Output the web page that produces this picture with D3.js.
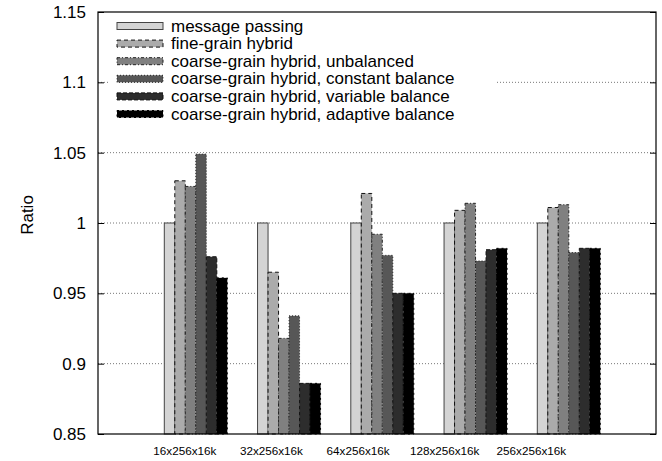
<!DOCTYPE html>
<html><head><meta charset="utf-8">
<script src="https://cdn.jsdelivr.net/npm/d3@7/dist/d3.min.js"></script>
<style>body{margin:0;background:#fff}svg{display:block}text{font-family:"Liberation Sans",Arial,sans-serif}</style>
</head><body><svg id="c" width="662" height="461"></svg>
<script>
const categories = ["16x256x16k","32x256x16k","64x256x16k","128x256x16k","256x256x16k"];
const seriesNames = ["message passing","fine-grain hybrid","coarse-grain hybrid, unbalanced","coarse-grain hybrid, constant balance","coarse-grain hybrid, variable balance","coarse-grain hybrid, adaptive balance"];
const messagePassing   = [1.000, 1.000, 1.000, 1.000, 1.000];
const fineGrain        = [1.030, 0.965, 1.021, 1.009, 1.011];
const cgUnbalanced     = [1.026, 0.918, 0.992, 1.014, 1.013];
const cgConstant       = [1.049, 0.934, 0.977, 0.973, 0.979];
const cgVariable       = [0.976, 0.886, 0.950, 0.981, 0.982];
const cgAdaptive       = [0.961, 0.886, 0.950, 0.982, 0.982];
const yTicks = [0.85, 0.9, 0.95, 1, 1.05, 1.1, 1.15];
const yTickLabels = ["0.85","0.9","0.95","1","1.05","1.1","1.15"];

const seriesValues = [messagePassing, fineGrain, cgUnbalanced, cgConstant, cgVariable, cgAdaptive];
const fills = ["#d4d4d4","#ababab","#808080","#575757","#2d2d2d","#000000"];
const strokes = ["#444","#111","#222","#222","#111","#000"];
const dashes = [null,"4,3","3,2,1,2","1,2","4,2","2,3"];

const svg = d3.select("#c");
const L = 98, R = 656, T = 12, B = 434;
const y = d3.scaleLinear().domain([0.85, 1.15]).range([B, T]);
const x0 = d3.scaleBand().domain(categories).range([164.3, 600.3]).paddingInner(0.3244).paddingOuter(0);
const x1 = d3.scaleBand().domain(seriesNames).range([0, x0.bandwidth()]).padding(0);
const xl = d3.scalePoint().domain(categories).range([184.3, 530.8]);

// grid
svg.append("g").selectAll("line").data(yTicks.filter(t => t > 0.86 && t < 1.14)).join("line")
  .attr("x1", L).attr("x2", R).attr("y1", d => y(d)).attr("y2", d => y(d))
  .attr("stroke", "#777").attr("stroke-width", 1).attr("stroke-dasharray", "1,2");

// bars
const g = svg.append("g");
categories.forEach((c, ci) => {
  seriesNames.forEach((s, si) => {
    const v = seriesValues[si][ci];
    g.append("rect")
      .attr("x", x0(c) + x1(s)).attr("width", x1.bandwidth())
      .attr("y", y(v)).attr("height", y(0.85) - y(v))
      .attr("fill", fills[si]).attr("stroke", strokes[si]).attr("stroke-width", 1)
      .attr("stroke-dasharray", dashes[si]);
  });
});

// legend
const lg = svg.append("g");
lg.append("rect").attr("x", 108).attr("y", 13).attr("width", 388).attr("height", 110).attr("fill", "#fff");
seriesNames.forEach((s, i) => {
  const cy = 25.5 + i * 17.6;
  lg.append("rect").attr("x", 117).attr("y", cy - 3).attr("width", 46).attr("height", 7)
    .attr("fill", fills[i]).attr("stroke", strokes[i]).attr("stroke-width", 1).attr("stroke-dasharray", dashes[i]);
  lg.append("text").attr("x", 171).attr("y", cy + 6).attr("font-size", 17).attr("fill", "#000").text(s);
});

// frame
svg.append("rect").attr("x", L).attr("y", T).attr("width", R - L).attr("height", B - T)
  .attr("fill", "none").attr("stroke", "#000").attr("stroke-width", 1.2);

// y axis
const yAxis = d3.axisLeft(y).tickValues(yTicks).tickFormat((d, i) => yTickLabels[i]).tickSizeInner(-6).tickSizeOuter(0).tickPadding(12);
const ya = svg.append("g").attr("transform", `translate(${L},0)`).call(yAxis);
ya.select(".domain").remove();
ya.selectAll("text").attr("font-size", 17).attr("fill", "#000").attr("font-family", '"Liberation Sans",Arial,sans-serif');
const yAxisR = d3.axisRight(y).tickValues(yTicks).tickFormat("").tickSizeInner(-6).tickSizeOuter(0);
const yr = svg.append("g").attr("transform", `translate(${R},0)`).call(yAxisR);
yr.select(".domain").remove();

// x labels
const xAxis = d3.axisBottom(xl).tickSize(0).tickPadding(0);
const xa = svg.append("g").attr("transform", `translate(0,${B + 13})`).call(xAxis);
xa.select(".domain").remove();
xa.selectAll("text").attr("font-size", 11.7).attr("fill", "#000").attr("font-family", '"Liberation Sans",Arial,sans-serif');

// y title
svg.append("text").attr("transform", "translate(33,215) rotate(-90)").attr("text-anchor", "middle")
  .attr("font-size", 17).attr("fill", "#000").text("Ratio");
</script></body></html>
